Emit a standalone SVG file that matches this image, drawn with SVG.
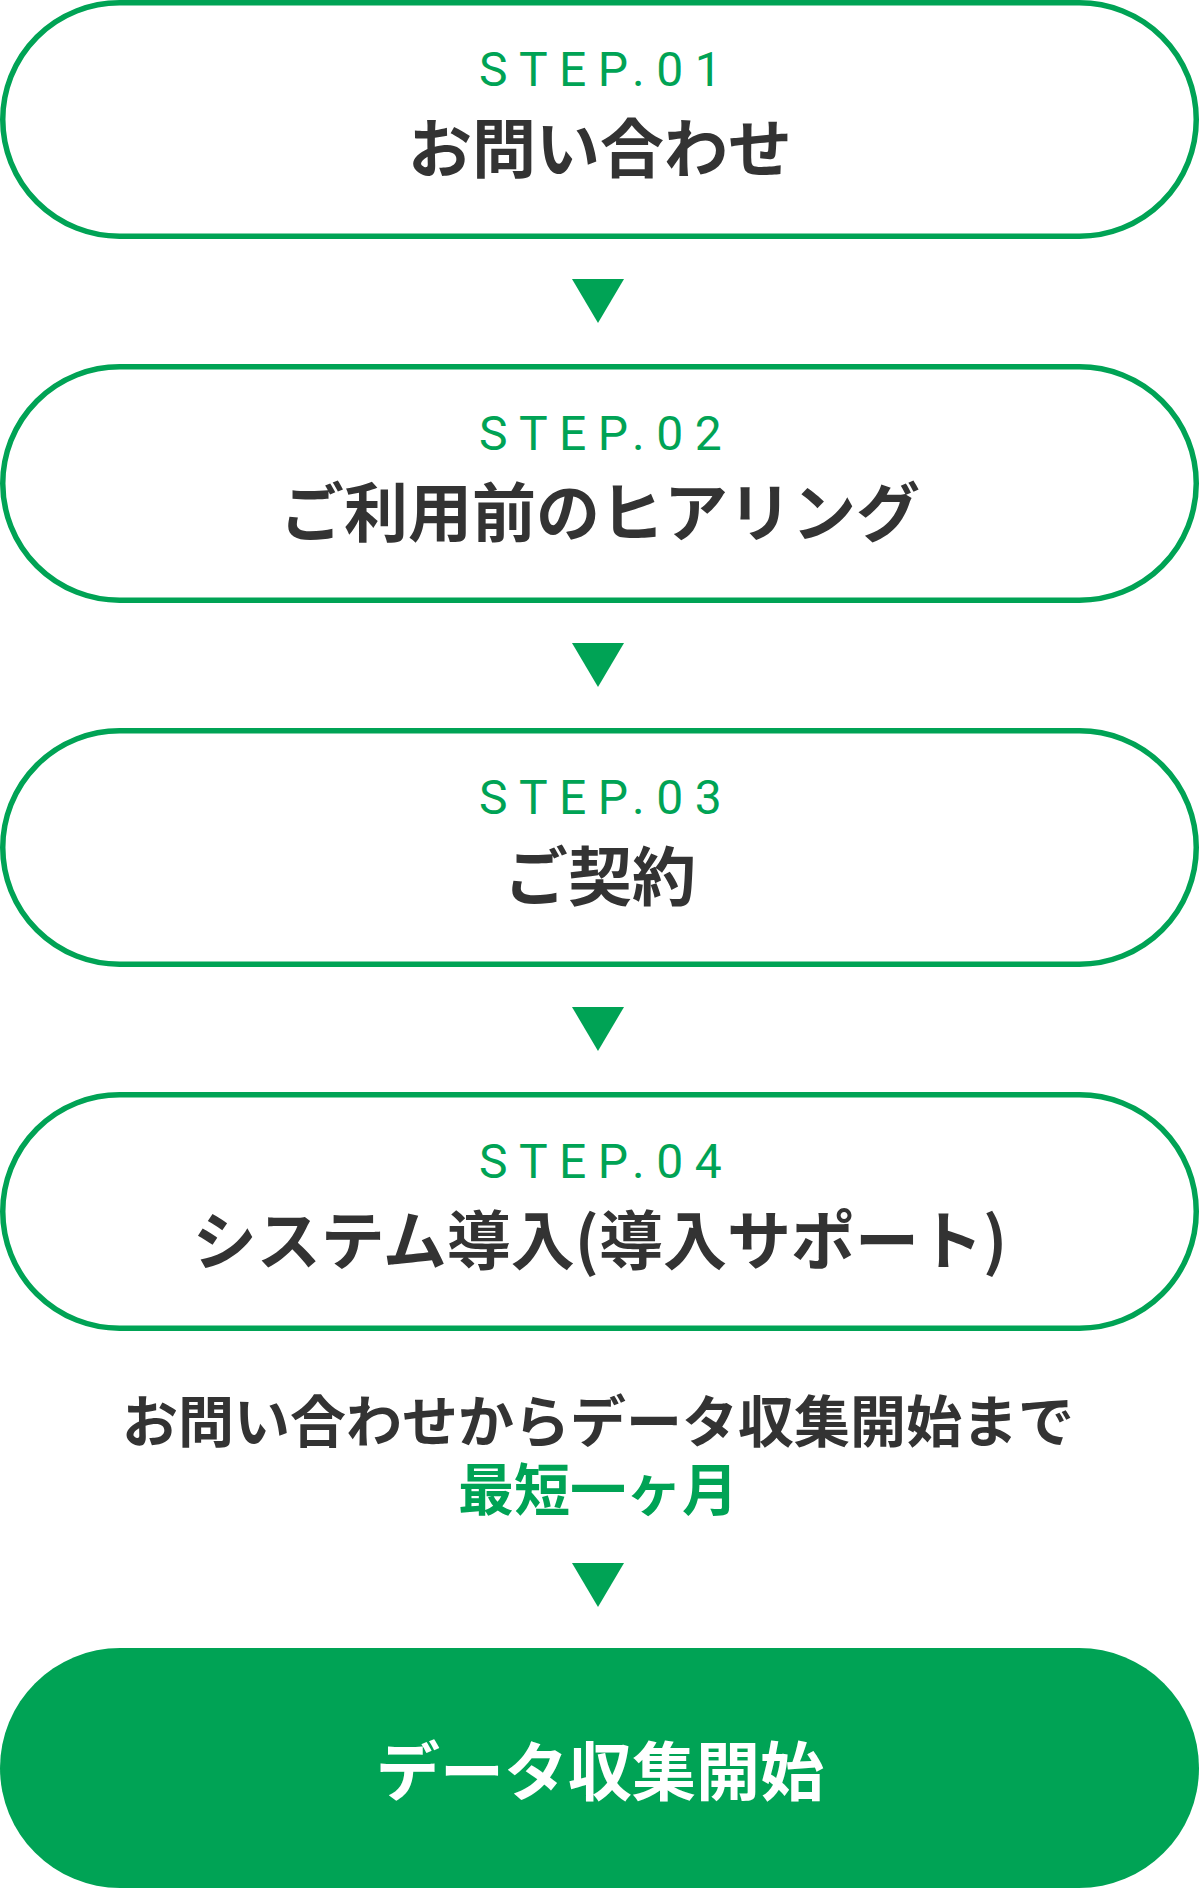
<svg xmlns="http://www.w3.org/2000/svg" width="1200" height="1888" viewBox="0 0 1200 1888">
<style>
.box{fill:#ffffff;stroke:#00a355;stroke-width:5.5}
.step{font-family:Roboto,"Noto Sans","Liberation Sans",sans-serif;font-size:48px;font-weight:400;fill:#00a355;letter-spacing:11.5px;text-anchor:middle}
.title{font-family:"Noto Sans CJK JP","Noto Sans",sans-serif;font-size:64px;font-weight:700;fill:#333333;text-anchor:middle}
.note{font-family:"Noto Sans CJK JP","Noto Sans",sans-serif;font-size:56px;font-weight:700;fill:#333333;text-anchor:middle}
.accent{fill:#00a355}
.arrow{fill:#00a355}
.final{fill:#00a355}
.finaltext{font-family:"Noto Sans CJK JP","Noto Sans",sans-serif;font-size:64px;font-weight:700;fill:#ffffff;text-anchor:middle}
</style>
<rect width="1200" height="1888" fill="#ffffff"/>
<g id="step01">
<rect class="box" x="2.75" y="2.75" width="1193.5" height="233.5" rx="116.75" ry="116.75"/>
<text class="step" x="606" y="86">STEP.01</text>
<text class="title" x="600" y="172">お問い合わせ</text>
</g>
<g id="step02">
<rect class="box" x="2.75" y="366.75" width="1193.5" height="233.5" rx="116.75" ry="116.75"/>
<text class="step" x="606" y="450">STEP.02</text>
<text class="title" x="600" y="536">ご利用前のヒアリング</text>
</g>
<g id="step03">
<rect class="box" x="2.75" y="730.75" width="1193.5" height="233.5" rx="116.75" ry="116.75"/>
<text class="step" x="606" y="814">STEP.03</text>
<text class="title" x="600" y="900">ご契約</text>
</g>
<g id="step04">
<rect class="box" x="2.75" y="1094.75" width="1193.5" height="233.5" rx="116.75" ry="116.75"/>
<text class="step" x="606" y="1178">STEP.04</text>
<text class="title" x="600" y="1264">システム導入(導入サポート)</text>
</g>
<g id="note">
<text class="note" x="598" y="1442">お問い合わせからデータ収集開始まで</text>
<text class="note accent" x="598" y="1510">最短一ヶ月</text>
</g>
<g id="connectors">
<polygon class="arrow" points="572,279 624,279 598,323"/>
<polygon class="arrow" points="572,643 624,643 598,687"/>
<polygon class="arrow" points="572,1007 624,1007 598,1051"/>
<polygon class="arrow" points="572,1563 624,1563 598,1607"/>
</g>
<g id="start">
<rect class="final" x="0" y="1648" width="1199" height="240" rx="120" ry="120"/>
<text class="finaltext" x="600" y="1795">データ収集開始</text>
</g>
</svg>
